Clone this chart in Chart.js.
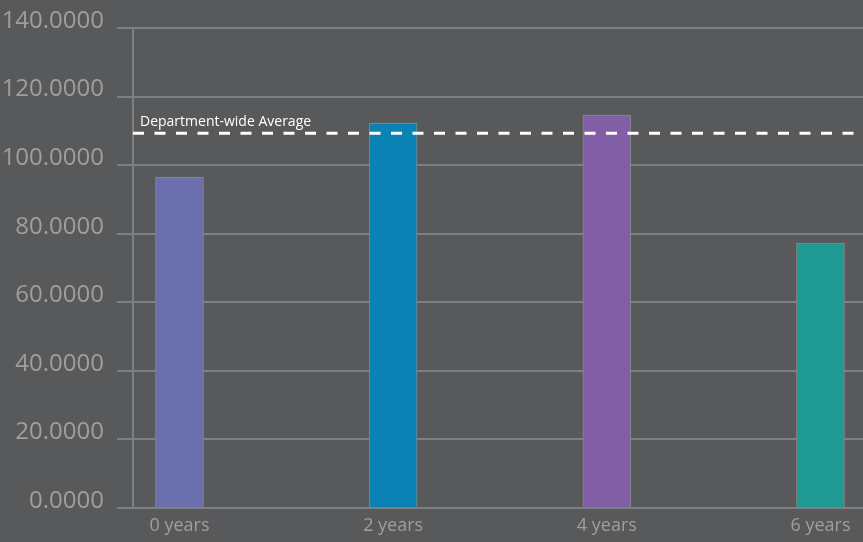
<!DOCTYPE html>
<html>
<head>
<meta charset="utf-8">
<script src="https://cdn.jsdelivr.net/npm/chart.js@4.4.1/dist/chart.umd.min.js"></script>
<style>
  html, body { margin: 0; padding: 0; background: #58595b; overflow: hidden; }
  #wrap { width: 863px; height: 542px; position: relative; }
</style>
</head>
<body>
<div id="wrap"><canvas id="tenureChart"></canvas></div>
<script>
const categories = ["0 years", "2 years", "4 years", "6 years"];
const years = [0, 2, 4, 6];
const values = [96.5, 112.3, 114.6, 77.3];
const barColors = ["#6b6fae", "#0a82b4", "#815ea6", "#1f9a93"];
const yTicks = [0, 20, 40, 60, 80, 100, 120, 140];
const averageValue = 109.3;
const averageLabel = "Department-wide Average";

const gridColor = "#7e7f81";
const tickColor = "#a39d9b";

// dashed average line + its caption, drawn over the bars
const averageLine = {
  id: "averageLine",
  afterDatasetsDraw(chart) {
    const { ctx, chartArea, scales } = chart;
    const y = scales.y.getPixelForValue(averageValue);
    ctx.save();
    ctx.strokeStyle = "#ffffff";
    ctx.lineWidth = 3;
    ctx.setLineDash([11, 10.5]);
    ctx.beginPath();
    ctx.moveTo(chartArea.left, y);
    ctx.lineTo(chartArea.right, y);
    ctx.stroke();
    ctx.setLineDash([]);
    ctx.fillStyle = "#ffffff";
    ctx.font = "14px 'Open Sans'";
    ctx.textBaseline = "alphabetic";
    ctx.fillText(averageLabel, chartArea.left + 7, y - 7);
    ctx.restore();
  },
};

const ctx = document.getElementById("tenureChart").getContext("2d");
new Chart(ctx, {
  type: "bar",
  data: {
    datasets: [
      {
        data: years.map((yr, i) => ({ x: yr, y: values[i] })),
        backgroundColor: barColors,
        borderColor: "#8a8a8c",
        borderWidth: 1,
        barThickness: 48,
      },
    ],
  },
  options: {
    responsive: true,
    maintainAspectRatio: false,
    animation: false,
    layout: { padding: { top: 28, right: 0, bottom: 0, left: 0 } },
    plugins: { legend: { display: false }, tooltip: { enabled: false } },
    scales: {
      x: {
        type: "linear",
        offset: false,
        min: -0.435,
        max: 6.398,
        afterBuildTicks: (scale) => {
          scale.ticks = years.map((v) => ({ value: v }));
        },
        afterFit: (scale) => {
          scale.height = 34;
        },
        grid: { display: false, drawTicks: false, offset: false },
        border: { display: false },
        ticks: {
          color: tickColor,
          font: { family: "'Open Sans'", size: 18 },
          padding: 7,
          maxRotation: 0,
          autoSkip: false,
          callback: (value) => categories[years.indexOf(value)],
        },
      },
      y: {
        min: 0,
        max: 140,
        afterBuildTicks: (scale) => {
          scale.ticks = yTicks.map((v) => ({ value: v }));
        },
        afterFit: (scale) => {
          scale.width = 133;
        },
        grid: {
          color: gridColor,
          lineWidth: 2,
          drawTicks: true,
          tickLength: 16,
          tickColor: gridColor,
        },
        border: { display: true, color: gridColor, width: 2 },
        ticks: {
          color: tickColor,
          font: { family: "'Open Sans'", size: 24 },
          padding: 13,
          labelOffset: -7,
          callback: (value) => value.toFixed(4),
        },
      },
    },
  },
  plugins: [averageLine],
});
</script>
</body>
</html>
